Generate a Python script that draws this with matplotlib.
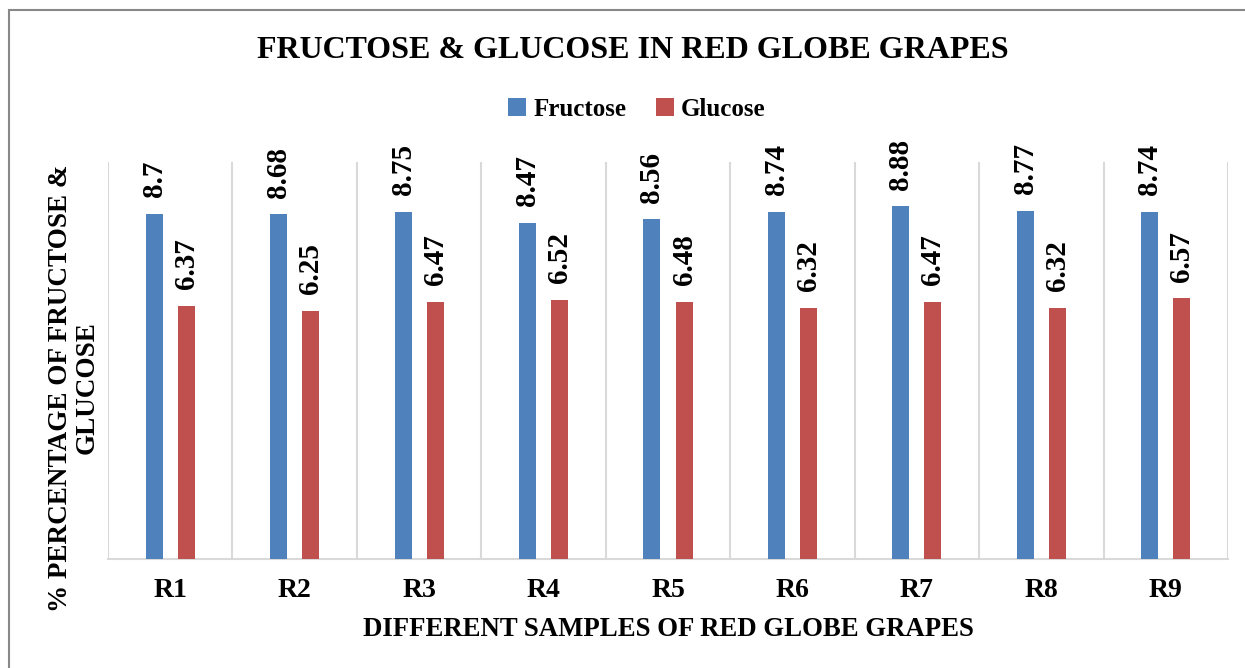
import numpy as np
import matplotlib.pyplot as plt
from matplotlib.patches import Rectangle

plt.rcParams['font.family'] = ['Liberation Serif', 'DejaVu Serif']
plt.rcParams['font.weight'] = 'bold'

# data
samples = ['R1', 'R2', 'R3', 'R4', 'R5', 'R6', 'R7', 'R8', 'R9']
fructose = [8.7, 8.68, 8.75, 8.47, 8.56, 8.74, 8.88, 8.77, 8.74]
glucose = [6.37, 6.25, 6.47, 6.52, 6.48, 6.32, 6.47, 6.32, 6.57]

blue = '#4F81BD'
red = '#C0504D'
grid_col = '#D9D9D9'

fig = plt.figure(figsize=(12.45, 6.68), dpi=100)
ax = fig.add_axes([108/1245, 1-559/668, (1228-108)/1245, (559-162)/668])

x = np.arange(len(samples))
w = 0.137
off = 0.129
b1 = ax.bar(x - off, fructose, w, color=blue, label='Fructose', zorder=3)
b2 = ax.bar(x + off, glucose, w, color=red, label='Glucose', zorder=3)

# rotated value labels above the bars
for bars, vals in ((b1, fructose), (b2, glucose)):
    for b, v in zip(bars, vals):
        ax.annotate(f'{v:g}', (b.get_x() + b.get_width()/2, b.get_height()),
                    xytext=(0, 12), textcoords='offset points',
                    rotation=90, ha='center', va='bottom',
                    fontsize=21, fontweight='bold')

ax.set_xlim(-0.5, len(samples) - 0.5)
ax.set_ylim(0, 10)
ax.set_xticks(x)
ax.set_xticklabels(samples, fontsize=20, fontweight='bold')
ax.set_xticks(np.arange(len(samples) + 1) - 0.5, minor=True)
ax.tick_params(axis='x', which='both', length=0, pad=14)
ax.set_yticks([])
ax.grid(which='minor', axis='x', color=grid_col, lw=1.5, zorder=0)
for s in ['top', 'right', 'left']:
    ax.spines[s].set_visible(False)
ax.spines['bottom'].set_color(grid_col)
ax.spines['bottom'].set_linewidth(1.5)

ax.set_xlabel('DIFFERENT SAMPLES OF RED GLOBE GRAPES', fontsize=19.3,
              fontweight='bold', labelpad=10)

fig.text(74/1245, 1-388/668, '% PERCENTAGE OF FRUCTOSE &\nGLUCOSE',
         rotation=90, ha='center', va='center', multialignment='center',
         fontsize=19.5, fontweight='bold', linespacing=1.1)

fig.text(633/1245, 1-51/668, 'FRUCTOSE & GLUCOSE IN RED GLOBE GRAPES',
         ha='center', va='center', fontsize=23, fontweight='bold')

fig.legend(handles=[b1, b2], loc='center', bbox_to_anchor=(637/1245, 1-109/668),
           ncol=2, frameon=False, handlelength=0.7,
           handleheight=0.7, handletextpad=0.3, columnspacing=1.2,
           prop={'weight': 'bold', 'size': 18})

# chart border
fig.patches.append(Rectangle((9/1245, -0.05), 1.1, 1-10/668 + 0.05,
                             transform=fig.transFigure, fill=False,
                             edgecolor='#888888', lw=1.5))

fig.savefig('out.png', dpi=100)
